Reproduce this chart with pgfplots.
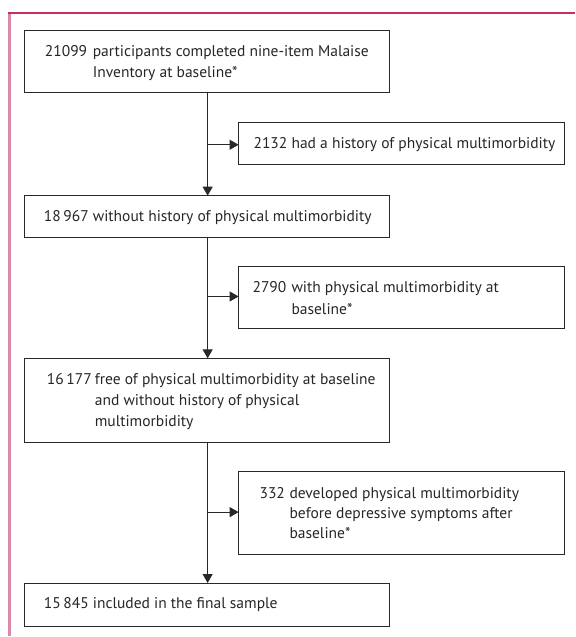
\documentclass[border=0pt]{standalone}
\usepackage{fontspec}
\setmainfont{PT Sans}
\usepackage{pgfplots}
\pgfplotsset{compat=1.18}
\usetikzlibrary{arrows.meta}
\definecolor{frametop}{RGB}{190,50,100}
\definecolor{frameleft}{RGB}{222,135,170}
\definecolor{boxline}{RGB}{40,40,40}
\tikzset{lbl/.style={inner sep=0pt, outer sep=0pt, anchor=base west, font=\fontsize{15.6}{18}\selectfont, text=black!85}}
\begin{document}
\begin{tikzpicture}
\begin{axis}[
  scale only axis, width=576bp, height=637bp,
  xmin=0, xmax=576, ymin=0, ymax=637, y dir=reverse,
  hide axis, clip=false,
]
% invisible corners for the bounding box
\addplot[draw=none, mark=none] coordinates {(0,0) (576,637)};
% outer frame
\addplot[draw=frameleft, line width=2.2bp, mark=none] coordinates {(9.5,13) (9.5,637)};
\addplot[draw=frametop, line width=1.6bp, mark=none] coordinates {(8.5,13) (576,13)};
% boxes
\addplot[boxline, line width=1bp, mark=none, line cap=rect] coordinates {(25,31) (390,31) (390,93) (25,93) (25,31)};
\addplot[boxline, line width=1bp, mark=none, line cap=rect] coordinates {(239,123) (565,123) (565,165) (239,165) (239,123)};
\addplot[boxline, line width=1bp, mark=none, line cap=rect] coordinates {(25,196) (390,196) (390,238) (25,238) (25,196)};
\addplot[boxline, line width=1bp, mark=none, line cap=rect] coordinates {(239,267) (565,267) (565,329) (239,329) (239,267)};
\addplot[boxline, line width=1bp, mark=none, line cap=rect] coordinates {(25,359) (390,359) (390,443) (25,443) (25,359)};
\addplot[boxline, line width=1bp, mark=none, line cap=rect] coordinates {(239,472) (565,472) (565,555) (239,555) (239,472)};
\addplot[boxline, line width=1bp, mark=none, line cap=rect] coordinates {(25,584) (390,584) (390,628) (25,628) (25,584)};
% vertical arrows
\addplot[boxline, line width=1bp, mark=none, -{Triangle[length=9bp,width=10bp]}] coordinates {(208,93) (208,196)};
\addplot[boxline, line width=1bp, mark=none, -{Triangle[length=9bp,width=10bp]}] coordinates {(208,238) (208,359)};
\addplot[boxline, line width=1bp, mark=none, -{Triangle[length=9bp,width=10bp]}] coordinates {(208,443) (208,584)};
% horizontal arrows
\addplot[boxline, line width=1bp, mark=none, -{Triangle[length=9bp,width=10bp]}] coordinates {(208,145) (239,145)};
\addplot[boxline, line width=1bp, mark=none, -{Triangle[length=9bp,width=10bp]}] coordinates {(208,297) (239,297)};
\addplot[boxline, line width=1bp, mark=none, -{Triangle[length=9bp,width=10bp]}] coordinates {(208,513) (239,513)};
% texts
\node[lbl] at (axis cs:45,57) {21099};
\node[lbl] at (axis cs:93,57) {participants completed nine-item Malaise};
\node[lbl] at (axis cs:93,78) {Inventory at baseline*};
\node[lbl] at (axis cs:254,149) {2132 had a history of physical multimorbidity};
\node[lbl] at (axis cs:44,222) {18\,967 without history of physical multimorbidity};
\node[lbl] at (axis cs:253,293) {2790};
\node[lbl] at (axis cs:292,293) {with physical multimorbidity at};
\node[lbl] at (axis cs:292,315) {baseline*};
\node[lbl] at (axis cs:47,385) {16\,177};
\node[lbl] at (axis cs:95,385) {free of physical multimorbidity at baseline};
\node[lbl] at (axis cs:95,406) {and without history of physical};
\node[lbl] at (axis cs:95,427) {multimorbidity};
\node[lbl] at (axis cs:260,499) {332};
\node[lbl] at (axis cs:290,499) {developed physical multimorbidity};
\node[lbl] at (axis cs:290,519) {before depressive symptoms after};
\node[lbl] at (axis cs:290,539) {baseline*};
\node[lbl] at (axis cs:44,610) {15\,845 included in the final sample};
\end{axis}
\end{tikzpicture}
\end{document}
